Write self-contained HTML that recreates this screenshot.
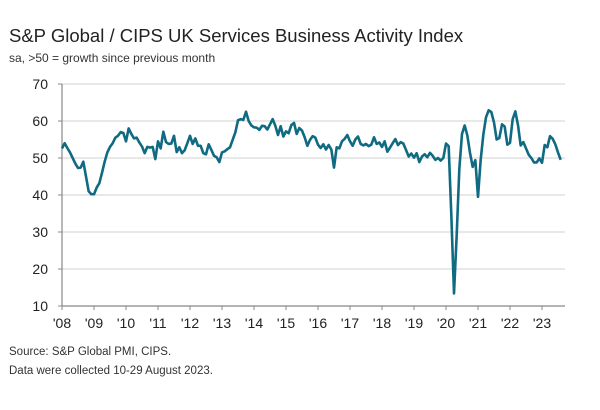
<!DOCTYPE html>
<html><head><meta charset="utf-8"><style>
body{margin:0;background:#fff;width:600px;height:405px;overflow:hidden;font-family:"Liberation Sans",sans-serif;}
svg text{font-family:"Liberation Sans",sans-serif;}
</style></head><body>
<svg id="chart" width="600" height="405" viewBox="0 0 600 405">
<text x="9" y="42" font-size="18.5" fill="#222">S&amp;P Global / CIPS UK Services Business Activity Index</text>
<text x="9" y="62" font-size="12" fill="#333">sa, &gt;50 = growth since previous month</text>
<g id="grid"></g>
<g id="axes"></g>
<path id="line" fill="none" stroke="#0f6a82" stroke-width="2.6" stroke-linejoin="round"/>
<text x="9" y="355" font-size="11.5" fill="#333">Source: S&amp;P Global PMI, CIPS.</text>
<text x="9" y="374" font-size="11.5" fill="#333">Data were collected 10-29 August 2023.</text>
</svg>
<script>
const yTicks=[10,20,30,40,50,60,70];
const yearLabels=["'08","'09","'10","'11","'12","'13","'14","'15","'16","'17","'18","'19","'20","'21","'22","'23"];
const v2008=[52.6,54.0,52.7,51.5,50.0,48.5,47.3,47.4,49.0,45.0,41.0,40.2];
const v2009=[40.2,42.0,43.2,46.0,49.0,51.5,53.0,54.0,55.5,56.0,57.0,56.8];
const v2010=[54.5,58.0,56.5,55.3,55.5,54.2,53.1,51.3,53.0,52.8,53.0,49.7];
const v2011=[54.5,52.6,57.1,54.3,53.8,53.9,56.0,51.6,52.9,51.3,52.1,54.0];
const v2012=[56.0,53.8,55.3,53.3,53.3,51.3,51.0,53.7,52.2,50.6,50.2,48.9];
const v2013=[51.5,51.8,52.4,52.9,54.9,56.9,60.2,60.5,60.3,62.5,60.0,58.8];
const v2014=[58.3,58.2,57.6,58.7,58.6,57.7,59.1,60.5,58.7,56.2,58.6,55.8];
const v2015=[57.2,56.7,58.9,59.5,56.5,58.1,57.4,55.6,53.3,54.9,55.9,55.5];
const v2016=[53.6,52.7,53.7,52.3,53.5,52.3,47.4,52.9,52.6,54.5,55.2,56.2];
const v2017=[54.5,53.3,55.0,55.8,53.8,53.4,53.8,53.2,53.6,55.6,53.8,54.2];
const v2018=[53.0,54.5,51.7,52.8,54.0,55.1,53.5,54.3,53.9,52.2,50.4,51.2];
const v2019=[50.1,51.3,48.9,50.4,51.0,50.2,51.4,50.6,49.5,50.0,49.3,50.0];
const v2020=[53.9,53.2,34.5,13.4,29.0,47.1,56.5,58.8,56.1,51.4,47.6,49.4];
const v2021=[39.5,49.5,56.3,61.0,62.9,62.4,59.6,55.0,55.4,59.1,58.5,53.6];
const v2022=[54.1,60.5,62.6,58.9,53.4,54.3,52.6,50.9,50.0,48.8,48.8,49.9];
const v2023=[48.7,53.5,52.9,55.9,55.2,53.7,51.5,49.5];
const values=[].concat(v2008,v2009,v2010,v2011,v2012,v2013,v2014,v2015,v2016,v2017,v2018,v2019,v2020,v2021,v2022,v2023);
const X0=62,YW=32,X1=565,Y10=306,Y70=84;
const xs=m=>X0+m/12*YW;
const ys=v=>Y10-(v-10)/60*(Y10-Y70);
const NS="http://www.w3.org/2000/svg";
function mk(t,a,p){const e=document.createElementNS(NS,t);for(const k in a)e.setAttribute(k,a[k]);p.appendChild(e);return e;}
const grid=document.getElementById('grid'),axes=document.getElementById('axes');
yTicks.forEach(t=>{
  if(t>10){const g=mk('line',{x1:X0,x2:X1,y1:ys(t),y2:ys(t),stroke:'#d9d9d9','stroke-width':1.3},grid);
  
  }
  const tk=mk('line',{x1:X0-4,x2:X0,y1:ys(t),y2:ys(t),stroke:'#888','stroke-width':1},axes);
  
  
  const l=mk('text',{x:X0-14,y:ys(t)+5,'text-anchor':'end','font-size':14,fill:'#222'},axes);
  
  
  l.textContent=t;
});
const ya=mk('line',{x1:X0,x2:X0,y1:Y70,y2:Y10,stroke:'#888','stroke-width':1.2},axes);


const xa=mk('line',{x1:X0,x2:X1,y1:Y10,y2:Y10,stroke:'#888','stroke-width':1.2},axes);


yearLabels.forEach((y,i)=>{
  const x=xs(i*12);
  const tk=mk('line',{x1:x,x2:x,y1:Y10,y2:Y10+4,stroke:'#888','stroke-width':1},axes);
  
  
  const l=mk('text',{x:x,y:Y10+22,'text-anchor':'middle','font-size':14,fill:'#222'},axes);
  
  
  l.textContent=y;
});
document.getElementById('line').setAttribute('d',values.map((v,i)=>(i?'L':'M')+xs(i).toFixed(2)+','+ys(v).toFixed(2)).join(''));
</script>
</body></html>
